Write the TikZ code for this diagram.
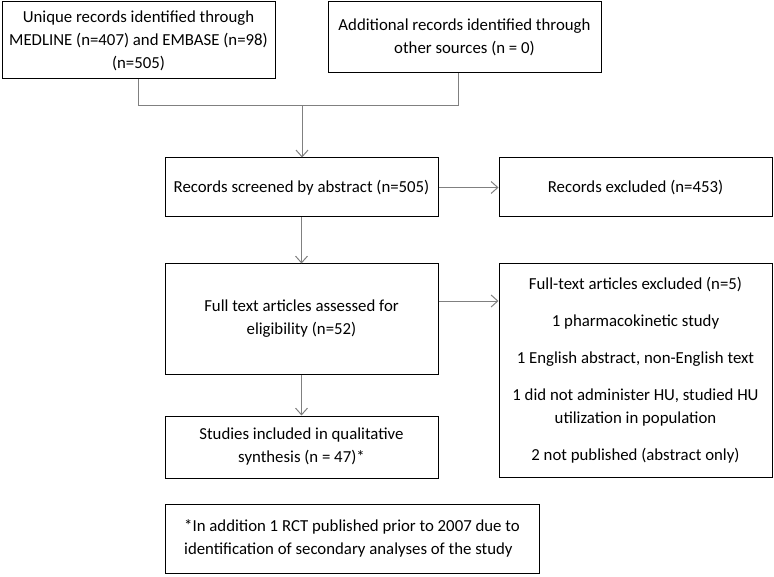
\documentclass[tikz,border=0pt]{standalone}
\usepackage{fontspec}
\setmainfont{Carlito}
\usetikzlibrary{arrows.meta}

\tikzset{
    box/.style={draw=black, line width=0.75pt, inner sep=0pt, align=center,
        minimum width=204.75pt, font=\fontsize{12.6}{17.25}\selectfont},
    link/.style={draw=gray, line width=0.75pt},
    arr/.style={link, -{Straight Barb[length=5pt, width=9pt, line width=0.75pt]}}
}

\begin{document}
\begin{tikzpicture}[x=0.75pt, y=-0.75pt]
    % page frame (pixels of the flow chart)
    \useasboundingbox (0,0) rectangle (774,577);

    % Identification
    \node[box, minimum height=57.75pt] (ident) at (138.5,40.5)
        {Unique records identified through\\MEDLINE (n=407) and EMBASE (n=98)\\(n=505)};
    \node[box, minimum height=53.25pt] (other) at (464.5,37.5)
        {Additional records identified through\\other sources (n = 0)};

    % Screening
    \node[box, minimum height=44.25pt] (screen) at (301.5,187.5)
        {Records screened by abstract (n=505)};
    \node[box, minimum height=44.25pt] (recexcl) at (635.5,187.5)
        {Records excluded (n=453)};

    % Eligibility
    \node[box, minimum height=82.5pt] (fulltext) at (301.5,319)
        {Full text articles assessed for\\eligibility (n=52)};
    \node[box, minimum height=159.75pt] (ftexcl) at (635.5,370.5)
        {Full-text articles excluded (n=5)\\[10.5pt]
         1 pharmacokinetic study\\[10.5pt]
         1 English abstract, non-English text\\[10.5pt]
         1 did not administer HU, studied HU\\utilization in population\\[10.5pt]
         2 not published (abstract only)};

    % Included
    \node[box, minimum height=46.5pt] (incl) at (301.5,447)
        {Studies included in qualitative\\synthesis (n = 47)*};

    % Footnote
    \node[box, minimum width=280.5pt, minimum height=51.75pt, align=left] (note) at (352,538.5)
        {*In addition 1 RCT published prior to 2007 due to\\identification of secondary analyses of the study};

    % Merge of the two sources
    \coordinate (jl) at (138.5,106);
    \coordinate (jm) at (302,106);
    \coordinate (jr) at (458,106);
    \draw[link] (ident.south) -- (jl) -- (jr) -- (jr |- other.south);
    \draw[arr] (jm) -- (jm |- screen.north);

    % Flow
    \draw[arr] (screen.east) -- (recexcl.west);
    \draw[arr] (screen.south) -- (fulltext.north);
    \draw[arr] ([yshift=13.5pt]fulltext.east) -- ([yshift=13.5pt]fulltext.east -| ftexcl.west);
    \draw[arr] (fulltext.south) -- (incl.north);
\end{tikzpicture}
\end{document}
